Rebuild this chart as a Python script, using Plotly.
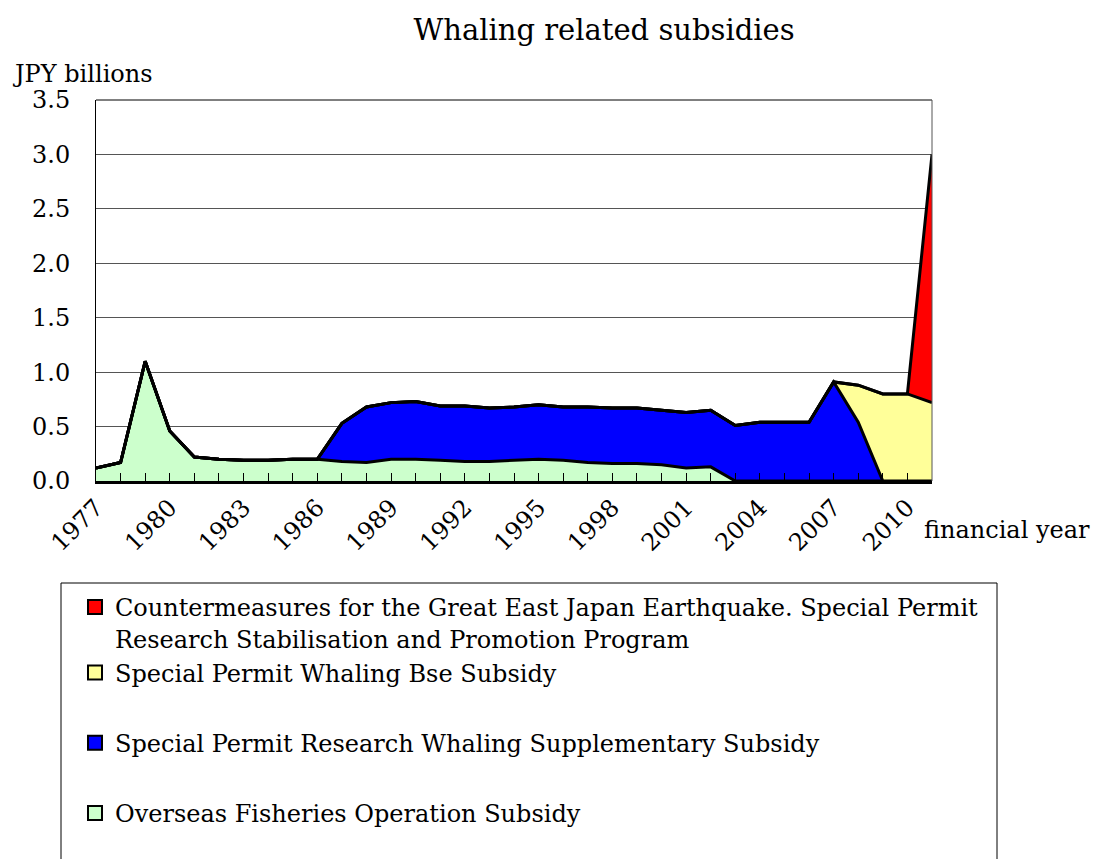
import plotly.graph_objects as go

years = list(range(1977, 2012))

overseas = [0.12, 0.17, 1.10, 0.46, 0.22, 0.20, 0.19, 0.19, 0.20, 0.20,
            0.18, 0.17, 0.20, 0.20, 0.19, 0.18, 0.18, 0.19, 0.20, 0.19,
            0.17, 0.16, 0.16, 0.15, 0.12, 0.13, 0.00, 0.00, 0.00, 0.00,
            0.00, 0.00, 0.00, 0.00, 0.00]
supplementary = [0, 0, 0, 0, 0, 0, 0, 0, 0, 0,
                 0.35, 0.51, 0.52, 0.53, 0.50, 0.51, 0.49, 0.49, 0.50, 0.49,
                 0.51, 0.51, 0.51, 0.50, 0.51, 0.52, 0.51, 0.54, 0.54, 0.54,
                 0.91, 0.54, 0.00, 0.00, 0.00]
base_subsidy = [0] * 30 + [0.00, 0.34, 0.80, 0.80, 0.72]
earthquake = [0] * 34 + [2.28]

names = [
    "Overseas Fisheries Operation Subsidy",
    "Special Permit Research Whaling Supplementary Subsidy",
    "Special Permit Whaling Bse Subsidy",
    "Countermeasures for the Great East Japan Earthquake. Special Permit<br>Research Stabilisation and Promotion Program",
]
colors = ["#CCFFCC", "#0000FF", "#FFFF99", "#FF0000"]
series = [overseas, supplementary, base_subsidy, earthquake]
groups = ["c", "b", "a", "a"]
ranks = [4, 3, 2, 1]

x_tick_years = list(range(1977, 2011, 3))
y_ticks = [0, 0.5, 1.0, 1.5, 2.0, 2.5, 3.0, 3.5]

FONT = "DejaVu Serif"

fig = go.Figure()
for vals, col, nm in zip(series, colors, names):
    fig.add_trace(go.Scatter(
        x=years, y=vals, mode="lines", stackgroup="one",
        fillcolor=col, line=dict(color="black", width=3),
        showlegend=False, name=nm, hoverinfo="skip"))

for col, nm, g, r in zip(colors, names, groups, ranks):
    fig.add_trace(go.Scatter(
        x=[None], y=[None], mode="markers", name=nm,
        legendgroup=g, legendrank=r,
        marker=dict(symbol="square", size=14, color=col,
                    line=dict(color="black", width=2))))

W, H = 1096, 859
L, R, T, B = 96, 932, 100, 481


def px_x(p):
    return (p - L) / (R - L)


def px_y(p):
    return (B - p) / (B - T)


fig.update_layout(
    width=W, height=H,
    margin=dict(l=L, r=W - R, t=T, b=H - B),
    paper_bgcolor="white", plot_bgcolor="white",
    font=dict(family=FONT, size=24, color="black"),
    title=dict(text="Whaling related subsidies", x=px_x(604), xref="paper",
               xanchor="center", y=1 - 30 / H, yref="container",
               yanchor="middle", font=dict(size=29, family=FONT)),
    xaxis=dict(range=[1977, 2011], tickmode="array", tickvals=x_tick_years,
               ticktext=[str(v) for v in x_tick_years], tickangle=-45,
               ticks="inside", ticklen=8, tickcolor="black", tickwidth=1,
               minor=dict(dtick=1, tick0=1977, ticks="inside", ticklen=8,
                          tickcolor="black", tickwidth=1, showgrid=False),
               showgrid=False, showline=True, linecolor="black", linewidth=3,
               zeroline=False, tickfont=dict(size=24, family=FONT)),
    yaxis=dict(range=[0, 3.5], tickvals=y_ticks, tickformat=".1f",
               showgrid=True, gridcolor="#555555", gridwidth=1,
               showline=True, linecolor="black", linewidth=1,
               zeroline=False, ticks="", ticklabelstandoff=20,
               tickfont=dict(size=24, family=FONT)),
    legend=dict(x=px_x(75), y=px_y(585), xanchor="left", yanchor="top",
                traceorder="grouped", tracegroupgap=36, valign="top",
                itemwidth=30, bgcolor="rgba(0,0,0,0)", borderwidth=0,
                font=dict(size=24, family=FONT)),
    shapes=[
        dict(type="line", xref="paper", yref="paper", x0=0, x1=1, y0=1, y1=1,
             line=dict(color="black", width=1)),
        dict(type="line", xref="paper", yref="paper", x0=1, x1=1, y0=0, y1=1,
             line=dict(color="#555555", width=1)),
        dict(type="rect", xref="paper", yref="paper", x0=px_x(61), x1=px_x(997),
             y0=px_y(583), y1=px_y(900), line=dict(color="black", width=1),
             fillcolor="rgba(0,0,0,0)"),
    ],
    annotations=[
        dict(text="JPY billions", xref="paper", yref="paper", x=px_x(10),
             y=px_y(74), xanchor="left", yanchor="middle", showarrow=False,
             font=dict(size=24, family=FONT)),
        dict(text="financial year", xref="paper", yref="paper", x=px_x(922),
             y=px_y(530), xanchor="left", yanchor="middle", showarrow=False,
             font=dict(size=24, family=FONT)),
    ],
)

fig.write_html("out.html")
